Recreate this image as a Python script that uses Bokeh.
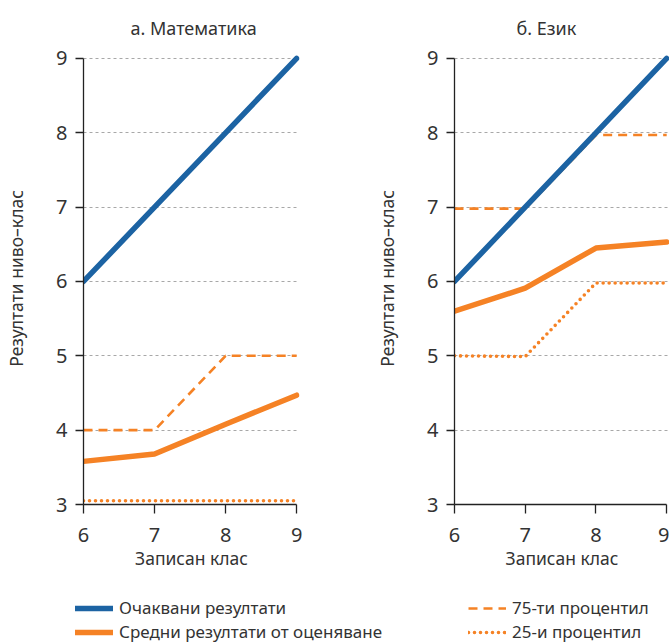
from bokeh.plotting import figure
from bokeh.layouts import column, row
from bokeh.models import Legend, LegendItem, FixedTicker, Range1d
from bokeh.embed import file_html
from bokeh.resources import INLINE

# Enrolled grade on the x axis
grades = [6, 7, 8, 9]
grade_ticks = [6, 7, 8, 9]
level_ticks = [3, 4, 5, 6, 7, 8, 9]

# а. Математика
math_expected = [6, 7, 8, 9]
math_mean = [3.58, 3.68, 4.08, 4.47]
math_p75 = [4.0, 4.0, 5.0, 5.0]
math_p25 = [3.05, 3.05, 3.05, 3.05]

# б. Език
lang_expected = [6, 7, 8, 9]
lang_mean = [5.60, 5.91, 6.45, 6.53]
lang_p75 = [6.98, 6.98, 7.97, 7.97]
lang_p25 = [5.00, 4.99, 5.98, 5.98]

titles = ["а. Математика", "б. Език"]
x_label = "Записан клас"
y_label = "Резултати ниво–клас"
legend_labels = ["Очаквани резултати", "Средни резултати от оценяване",
                 "75-ти процентил", "25-и процентил"]

BLUE = "#1c63a3"
ORANGE = "#f58225"
TEXT = "#333333"
FONT = "Noto Sans"

line_styles = [
    dict(line_color=BLUE, line_width=5.5, line_cap="round"),
    dict(line_color=ORANGE, line_width=5.5, line_cap="round"),
    dict(line_color=ORANGE, line_width=2.6, line_dash="9 6"),
    dict(line_color=ORANGE, line_width=3.6, line_dash="0 6", line_cap="round"),
]


def panel(title, series, width, border_left, border_right, title_offset):
    p = figure(width=width, height=580, output_backend="svg", toolbar_location=None,
               x_range=Range1d(6, 9.04), y_range=Range1d(3, 9.08),
               min_border_left=border_left, min_border_right=border_right,
               min_border_top=51, min_border_bottom=76)
    p.outline_line_color = None
    p.background_fill_color = "white"
    p.border_fill_color = "white"

    p.title.text = title
    p.title.text_font = FONT
    p.title.text_font_size = "18px"
    p.title.text_font_style = "normal"
    p.title.text_color = TEXT
    p.title.align = "left"
    p.title.offset = title_offset
    p.title.standoff = 26

    p.xgrid.visible = False
    p.ygrid.grid_line_color = "#a8a8a8"
    p.ygrid.grid_line_dash = "3 3"
    p.ygrid.grid_line_width = 1
    p.ygrid.ticker = FixedTicker(ticks=level_ticks[1:])

    for ax in (p.xaxis[0], p.yaxis[0]):
        ax.axis_line_color = "#222222"
        ax.axis_line_width = 1.3
        ax.major_tick_line_color = "#222222"
        ax.major_tick_line_width = 1.3
        ax.major_tick_in = 0
        ax.minor_tick_line_color = None
        ax.major_label_text_font = FONT
        ax.major_label_text_font_size = "20px"
        ax.major_label_text_color = TEXT
        ax.axis_label_text_font = FONT
        ax.axis_label_text_font_size = "17.5px"
        ax.axis_label_text_font_style = "normal"
        ax.axis_label_text_color = TEXT

    xa = p.xaxis[0]
    xa.ticker = FixedTicker(ticks=grade_ticks)
    xa.bounds = (6, 9)
    xa.major_tick_out = 9
    xa.major_label_standoff = 14
    xa.axis_label = x_label
    xa.axis_label_standoff = 1

    ya = p.yaxis[0]
    ya.ticker = FixedTicker(ticks=level_ticks)
    ya.bounds = (3, 9)
    ya.major_tick_out = 8
    ya.major_label_standoff = 8
    ya.axis_label = y_label
    ya.axis_label_standoff = 25

    # percentile lines first so the solid lines sit on top
    order = [2, 3, 1, 0]
    for i in order:
        p.line(grades, series[i], **line_styles[i])
    return p


p_math = panel(titles[0], [math_expected, math_mean, math_p75, math_p25],
               width=340, border_left=83, border_right=41, title_offset=47)
p_lang = panel(titles[1], [lang_expected, lang_mean, lang_p75, lang_p25],
               width=329, border_left=114, border_right=0, title_offset=62)

# Legend strip below both panels; its line renderers fall outside the strip's
# ranges, so only their legend glyphs show
leg = figure(width=669, height=63, output_backend="svg", toolbar_location=None,
             title=None,
             x_range=Range1d(0, 1), y_range=Range1d(0, 1),
             min_border=0, min_border_left=0, min_border_right=0,
             min_border_top=0, min_border_bottom=0)
leg.axis.visible = False
leg.grid.visible = False
leg.outline_line_color = None

legend_series = [math_expected, math_mean, math_p75, math_p25]
renderers = [leg.line(grades, ys, **style) for ys, style in zip(legend_series, line_styles)]


def make_legend(idx, x):
    lg = Legend(items=[LegendItem(label=legend_labels[i], renderers=[renderers[i]]) for i in idx],
                location=(x, 0), orientation="vertical",
                padding=0, margin=0, spacing=1,
                glyph_width=38, glyph_height=20, label_height=20, label_standoff=6,
                label_text_font=FONT, label_text_font_size="17px", label_text_color=TEXT,
                border_line_color=None, background_fill_alpha=0)
    leg.add_layout(lg, "center")


make_legend([0, 1], 75)
make_legend([2, 3], 468)

layout = column(row(p_math, p_lang), leg)

open("out.html", "w").write(file_html(layout, INLINE))
